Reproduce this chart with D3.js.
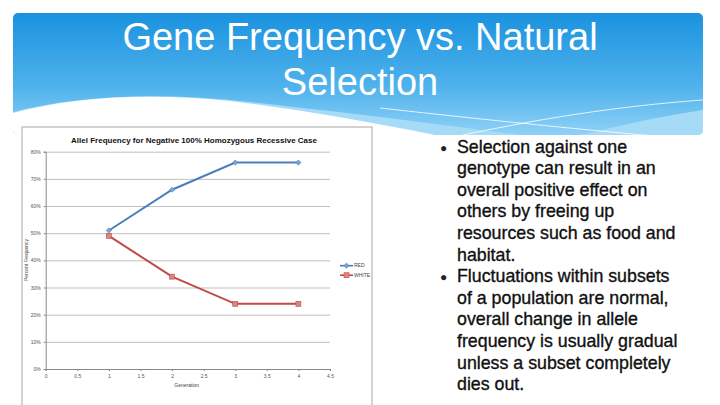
<html>
<head>
<style>
  body { margin: 0; background: #fff; }
  svg { display: block; font-family: "Liberation Sans", Arial, sans-serif; }
</style>
<script src="https://d3js.org/d3.v7.min.js"></script>
</head>
<body>
<svg id="slide" width="720" height="405"></svg>
<script>
  // chart data
  let generations = [1, 2, 3, 4];
  let redValues = [0.51, 0.66, 0.76, 0.76];
  let whiteValues = [0.49, 0.34, 0.24, 0.24];
  let seriesNames = ["RED", "WHITE"];
  let xTicks = [0, 0.5, 1, 1.5, 2, 2.5, 3, 3.5, 4, 4.5];
  let yTicks = [0, 0.1, 0.2, 0.3, 0.4, 0.5, 0.6, 0.7, 0.8];

  let titleLines = ["Gene Frequency vs. Natural", "Selection"];
  let bullets = [
    ["Selection against one", "genotype can result in an", "overall positive effect on",
     "others by freeing up", "resources such as food and", "habitat."],
    ["Fluctuations within subsets", "of a population are normal,", "overall change in allele",
     "frequency is usually gradual", "unless a subset completely", "dies out."]
  ];

  let svg = d3.select("#slide");
  let defs = svg.append("defs");

  // ---- header banner ----
  let grad = defs.append("linearGradient").attr("id", "bannerGrad")
    .attr("x1", 0).attr("y1", 0).attr("x2", 0).attr("y2", 1);
  grad.append("stop").attr("offset", "0%").attr("stop-color", "#1a92df");
  grad.append("stop").attr("offset", "60%").attr("stop-color", "#4fb2ec");
  grad.append("stop").attr("offset", "100%").attr("stop-color", "#8fd1f6");

  defs.append("clipPath").attr("id", "bannerClip")
    .append("rect").attr("x", 13).attr("y", 13).attr("width", 690).attr("height", 122).attr("rx", 5);

  let banner = svg.append("g").attr("clip-path", "url(#bannerClip)");
  banner.append("rect").attr("x", 13).attr("y", 13).attr("width", 690).attr("height", 122)
    .attr("fill", "url(#bannerGrad)");
  // light band
  banner.append("path")
    .attr("d", "M13,112 C80,95 160,92 250,102 C380,116 480,130 560,140 C610,128 660,116 703,110 L703,140 L13,140 Z")
    .attr("fill", "#a6dbf7");
  // white wave
  banner.append("path")
    .attr("d", "M13,113 C70,98 140,92 230,101 C320,112 400,128 470,142 L13,142 Z")
    .attr("fill", "#ffffff");
  // thin white lines
  banner.append("path").attr("d", "M380,108 C470,118 600,132 703,140")
    .attr("fill", "none").attr("stroke", "#fff").attr("stroke-width", 0.8);
  banner.append("path").attr("d", "M440,140 C540,118 620,106 703,100")
    .attr("fill", "none").attr("stroke", "#fff").attr("stroke-width", 0.8);

  svg.selectAll(".slideTitle")
    .data(titleLines)
    .enter().append("text")
    .attr("x", 360)
    .attr("y", (d, i) => 50 + i * 45)
    .attr("text-anchor", "middle")
    .attr("fill", "#fff")
    .attr("font-size", 38)
    .text(d => d);

  // ---- bullets ----
  let lineH = 21.6;
  let row = 0;
  bullets.forEach(lines => {
    svg.append("text").attr("x", 440).attr("y", 152.5 + row * lineH - 1)
      .attr("font-size", 12).attr("fill", "#222").text("\u25CF");
    lines.forEach(l => {
      svg.append("text").attr("x", 457).attr("y", 152.5 + row * lineH)
        .attr("font-size", 17.8).attr("fill", "#111")
        .attr("stroke", "#111").attr("stroke-width", 0.35)
        .text(l);
      row++;
    });
  });

  // ---- chart image ----
  svg.append("rect").attr("x", 22).attr("y", 127).attr("width", 350).attr("height", 285)
    .attr("fill", "#fff").attr("stroke", "#a8a8a8").attr("stroke-width", 1);

  let margin = { left: 45.7, top: 151.7, right: 330, bottom: 369 };
  let xScale = d3.scaleLinear().domain([0, 4.5]).range([margin.left, margin.right]);
  let yScale = d3.scaleLinear().domain([0, 0.8]).range([margin.bottom, margin.top]);

  // gridlines
  svg.append("g")
    .attr("transform", `translate(${margin.left},0)`)
    .call(d3.axisLeft(yScale).tickValues(yTicks).tickSize(-(margin.right - margin.left)).tickFormat(""))
    .call(g => g.select(".domain").remove())
    .call(g => g.selectAll("line").attr("stroke", "#b0b0b0").attr("stroke-width", 0.8));

  // axes
  let yAxis = svg.append("g")
    .attr("transform", `translate(${margin.left},0)`)
    .call(d3.axisLeft(yScale).tickValues(yTicks).tickSize(2).tickFormat(d3.format(".0%")));
  let xAxis = svg.append("g")
    .attr("transform", `translate(0,${margin.bottom})`)
    .call(d3.axisBottom(xScale).tickValues(xTicks).tickSize(2).tickFormat(d => d));
  [yAxis, xAxis].forEach(a => {
    a.select(".domain").attr("stroke", "#888");
    a.selectAll("line").attr("stroke", "#888");
    a.selectAll("text").attr("font-size", 5).attr("fill", "#555");
  });

  // series
  let series = [
    { name: seriesNames[0], values: redValues, color: "#4a7ebb", marker: "diamond" },
    { name: seriesNames[1], values: whiteValues, color: "#be4b48", marker: "square" }
  ];
  let line = d3.line().x((d, i) => xScale(generations[i])).y(d => yScale(d));

  function marker(g, type, x, y, color) {
    if (type === "diamond") {
      g.append("path").attr("d", `M${x},${y - 2.6}L${x + 2.6},${y}L${x},${y + 2.6}L${x - 2.6},${y}Z`)
        .attr("fill", "#7ea3d6").attr("stroke", color).attr("stroke-width", 0.6);
    } else {
      g.append("rect").attr("x", x - 2.5).attr("y", y - 2.5).attr("width", 5).attr("height", 5)
        .attr("fill", "#d98582").attr("stroke", color).attr("stroke-width", 0.6);
    }
  }

  series.forEach(s => {
    svg.append("path").datum(s.values).attr("d", line)
      .attr("fill", "none").attr("stroke", s.color).attr("stroke-width", 2);
    let g = svg.append("g");
    s.values.forEach((v, i) => marker(g, s.marker, xScale(generations[i]), yScale(v), s.color));
  });

  // legend
  series.forEach((s, i) => {
    let ly = 265.7 + i * 9.5;
    svg.append("line").attr("x1", 340).attr("x2", 353).attr("y1", ly).attr("y2", ly)
      .attr("stroke", s.color).attr("stroke-width", 1.6);
    marker(svg.append("g"), s.marker, 346.5, ly, s.color);
    svg.append("text").attr("x", 354).attr("y", ly + 1.7).attr("font-size", 5).attr("fill", "#444").text(s.name);
  });

  // chart titles
  svg.append("text").attr("x", 194).attr("y", 142.5).attr("text-anchor", "middle")
    .attr("font-size", 8).attr("font-weight", "bold").attr("fill", "#111")
    .text("Allel Frequency for Negative 100% Homozygous Recessive Case");
  svg.append("text").attr("x", 186.7).attr("y", 386.5).attr("text-anchor", "middle")
    .attr("font-size", 5).attr("fill", "#444").text("Generation");
  svg.append("text").attr("transform", "translate(28,260) rotate(-90)").attr("text-anchor", "middle")
    .attr("font-size", 5).attr("fill", "#444").text("Percent Frequency");
</script>
</body>
</html>
